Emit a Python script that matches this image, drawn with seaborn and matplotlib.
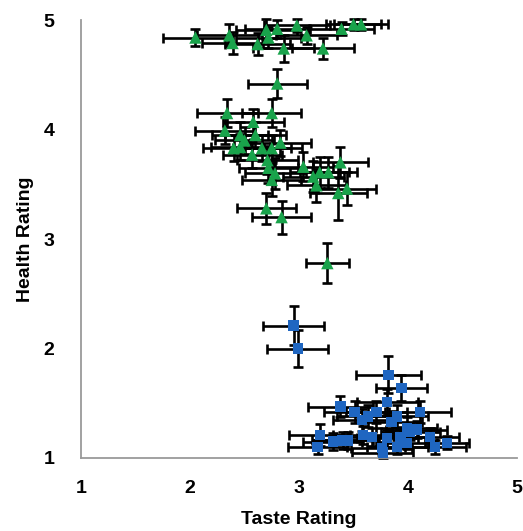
import matplotlib
matplotlib.use("Agg")
import matplotlib.pyplot as plt
import seaborn as sns
import pandas as pd

# ---- data ----
green_taste = [2.05, 2.36, 2.39, 2.62, 2.70, 2.72, 2.80, 2.86, 2.98, 3.07, 3.22, 3.39, 3.50, 3.57,
               2.80, 2.34, 2.75, 2.32, 2.58, 2.46, 2.50, 2.60, 2.40, 2.46, 2.66, 2.75, 2.83, 2.57,
               2.71, 2.72, 2.78, 2.75, 3.04, 3.13, 3.19, 3.27, 3.38, 3.16, 3.36, 3.44, 2.70, 2.84, 3.26]
green_health = [4.84, 4.86, 4.79, 4.78, 4.91, 4.84, 4.92, 4.74, 4.95, 4.86, 4.74, 4.92, 4.96, 4.96,
                4.42, 4.15, 4.15, 3.99, 4.07, 3.95, 3.90, 3.95, 3.83, 3.84, 3.83, 3.83, 3.88, 3.77,
                3.72, 3.65, 3.60, 3.54, 3.66, 3.57, 3.61, 3.61, 3.70, 3.49, 3.42, 3.46, 3.28, 3.20, 2.78]
green_taste_err = [0.30, 0.30, 0.28, 0.30, 0.28, 0.30, 0.30, 0.28, 0.30, 0.28, 0.28, 0.30, 0.25, 0.25,
                   0.27, 0.28, 0.27, 0.27, 0.28, 0.26, 0.27, 0.28, 0.28, 0.27, 0.27, 0.28, 0.28, 0.27,
                   0.28, 0.27, 0.28, 0.27, 0.27, 0.28, 0.27, 0.26, 0.25, 0.27, 0.26, 0.27, 0.27, 0.27, 0.20]
green_health_err = [0.08, 0.10, 0.10, 0.10, 0.10, 0.10, 0.08, 0.12, 0.06, 0.08, 0.10, 0.06, 0.05, 0.05,
                    0.13, 0.13, 0.13, 0.12, 0.12, 0.12, 0.12, 0.12, 0.12, 0.12, 0.12, 0.12, 0.12, 0.12,
                    0.13, 0.14, 0.14, 0.15, 0.13, 0.14, 0.14, 0.14, 0.14, 0.15, 0.25, 0.15, 0.14, 0.15, 0.18]

blue_taste = [2.95, 2.99, 3.82, 3.94, 3.81, 3.38, 3.51, 4.11, 3.71, 3.58, 3.63, 3.90, 3.85, 3.99, 3.19,
              3.31, 3.40, 3.45, 3.59, 3.67, 3.81, 3.93, 4.02, 4.08, 4.20, 4.36, 3.17, 3.76, 3.90, 4.25,
              3.77, 3.99]
blue_health = [2.21, 2.00, 1.76, 1.64, 1.51, 1.47, 1.42, 1.42, 1.42, 1.35, 1.38, 1.38, 1.33, 1.27, 1.21,
               1.15, 1.16, 1.16, 1.21, 1.19, 1.18, 1.19, 1.24, 1.26, 1.19, 1.14, 1.10, 1.09, 1.10, 1.10,
               1.05, 1.14]
blue_taste_err = [0.28, 0.28, 0.30, 0.23, 0.28, 0.30, 0.28, 0.28, 0.28, 0.27, 0.28, 0.28, 0.28, 0.28, 0.28,
                  0.27, 0.28, 0.28, 0.28, 0.28, 0.28, 0.28, 0.27, 0.28, 0.27, 0.20, 0.27, 0.28, 0.28, 0.28,
                  0.28, 0.28]
blue_health_err = [0.18, 0.17, 0.17, 0.12, 0.12, 0.10, 0.10, 0.10, 0.10, 0.10, 0.10, 0.10, 0.10, 0.10, 0.10,
                   0.08, 0.08, 0.08, 0.08, 0.08, 0.08, 0.08, 0.08, 0.08, 0.08, 0.06, 0.06, 0.06, 0.06, 0.06,
                   0.05, 0.06]

ticks = [1, 2, 3, 4, 5]

green_c = "#19a34b"
blue_c = "#1f66c1"

sns.set_style("white")
plt.rcParams["font.family"] = ["Liberation Sans", "DejaVu Sans"]
plt.rcParams["text.color"] = "black"
plt.rcParams["axes.labelcolor"] = "black"

fig = plt.figure(figsize=(5.23, 5.31), dpi=100)
ax = fig.add_axes([81 / 523, 1 - 458 / 531, (517 - 81) / 523, (458 - 20) / 531])

df_g = pd.DataFrame({"taste": green_taste, "health": green_health})
df_b = pd.DataFrame({"taste": blue_taste, "health": blue_health})

ax.errorbar(green_taste, green_health, xerr=green_taste_err, yerr=green_health_err,
            fmt="none", ecolor="black", elinewidth=1.9, capsize=3.4, capthick=1.9, zorder=2, clip_on=False)
ax.errorbar(blue_taste, blue_health, xerr=blue_taste_err, yerr=blue_health_err,
            fmt="none", ecolor="black", elinewidth=1.9, capsize=3.4, capthick=1.9, zorder=2, clip_on=False)

sns.scatterplot(data=df_g, x="taste", y="health", marker="^", s=80, color=green_c,
                edgecolor="none", linewidth=0, ax=ax, zorder=3, clip_on=False)
sns.scatterplot(data=df_b, x="taste", y="health", marker="s", s=55, color=blue_c,
                edgecolor="none", linewidth=0, ax=ax, zorder=3, clip_on=False)

ax.set_xlim(1, 5)
ax.set_ylim(1, 5)
ax.set_xticks(ticks)
ax.set_yticks(ticks)
ax.set_xticklabels([str(t) for t in ticks], fontsize=14, fontweight="bold")
ax.set_yticklabels([str(t) for t in ticks], fontsize=14, fontweight="bold")
ax.set_xlabel("Taste Rating", fontsize=14, fontweight="bold", labelpad=10)
ax.set_ylabel("Health Rating", fontsize=14, fontweight="bold", labelpad=7)

for s in ["top", "right"]:
    ax.spines[s].set_visible(False)
for s in ["left", "bottom"]:
    ax.spines[s].set_color("#9a9a9a")
    ax.spines[s].set_linewidth(1.3)
ax.tick_params(axis="x", direction="out", length=6, width=1.3, color="#9a9a9a",
               labelcolor="black", pad=10)
ax.tick_params(axis="y", direction="out", length=7, width=1.3, color="#9a9a9a",
               labelcolor="black", pad=12)

fig.savefig("out.png", dpi=100)
